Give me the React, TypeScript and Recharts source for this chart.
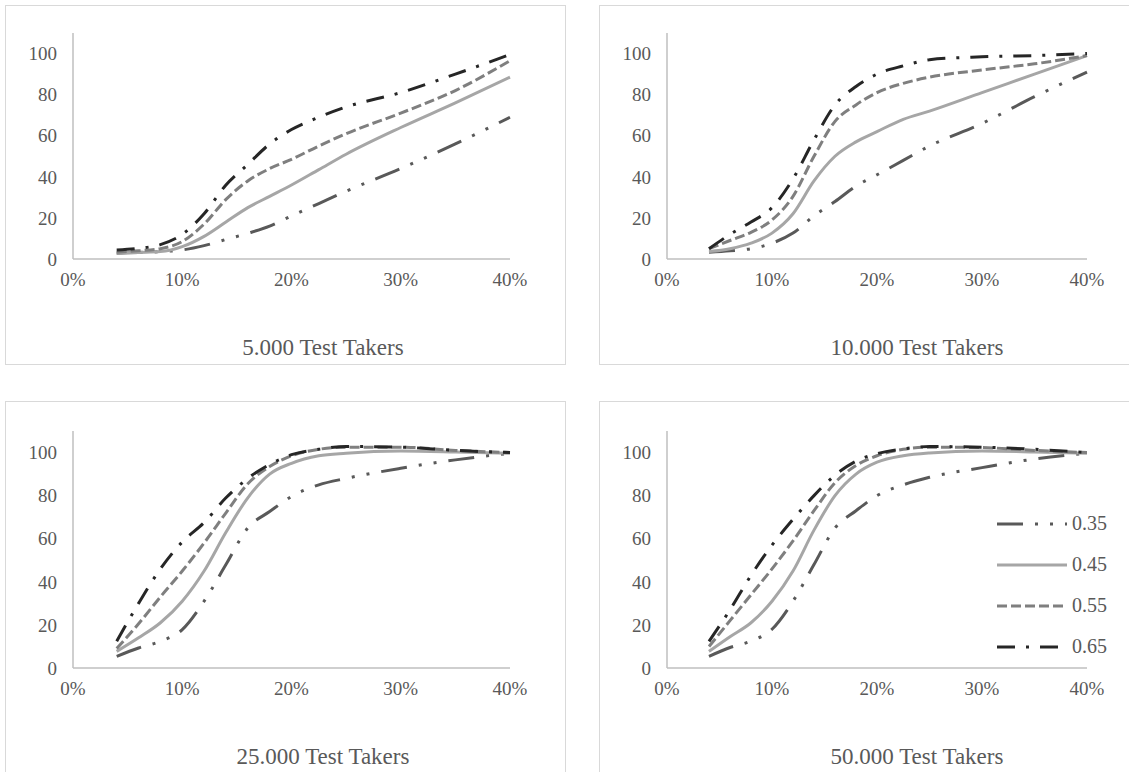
import { LineChart, Line, XAxis, YAxis } from "recharts"

// share of ... on the x axis
const X_VALUES = [0.04, 0.06, 0.08, 0.1, 0.12, 0.14, 0.16, 0.18, 0.2, 0.225, 0.25, 0.3, 0.35, 0.4]
const X_TICKS = [0, 0.1, 0.2, 0.3, 0.4]
const Y_TICKS = [0, 20, 40, 60, 80, 100]

const SERIES_NAMES = ["0.35", "0.45", "0.55", "0.65"]
const SERIES_COLORS = ["#595959", "#a6a6a6", "#7f7f7f", "#262626"]
const SERIES_DASHES = ["26 12 3 12 3 12", "", "10 4", "18 11 3 11"]

// 5.000 test takers
const T5000_035 = [2.8, 3.2, 3.6, 4.4, 6.5, 9.5, 12.5, 16, 21, 27, 33, 44, 56, 69]
const T5000_045 = [2.8, 3.2, 3.6, 6, 11, 18, 25, 30.5, 36, 43.5, 51, 64, 76, 88.5]
const T5000_055 = [3.3, 4, 5, 8.5, 17, 29, 38, 44, 48.5, 55, 61, 71, 82, 96.5]
const T5000_065 = [4.4, 5.2, 7, 12, 22, 36, 46, 56, 63, 69, 74, 81, 90, 99.5]

// 10.000 test takers
const T10000_035 = [3.3, 4, 5, 7.7, 12.6, 21, 28, 35.5, 41, 48, 55, 66, 79, 91]
const T10000_045 = [3.6, 5, 7.7, 12.6, 22, 38, 50, 57, 62, 68, 72, 81, 90, 99]
const T10000_055 = [5, 9, 13, 19, 30.5, 50, 67, 75, 81, 85.5, 88.5, 92, 95, 99]
const T10000_065 = [5, 12, 18, 25, 39, 58, 75, 84, 90, 94, 97, 98.4, 99, 100]

// 25.000 test takers
const T25000_035 = [5.4, 9.3, 12.4, 17.8, 31, 48, 65, 72.6, 79.6, 85, 88, 92.7, 96.6, 99.7]
const T25000_045 = [7.7, 14, 21, 31, 45, 63, 79, 90, 95, 98.5, 99.7, 100.7, 100.3, 99.7]
const T25000_055 = [9, 20.5, 33, 45, 58, 72, 85.5, 93.5, 98.5, 101.5, 102.5, 102.5, 101, 100]
const T25000_065 = [12.4, 30, 46, 58.5, 67.5, 79, 88, 94.5, 99, 101.5, 102.8, 102.5, 101, 100]

// 50.000 test takers
const T50000_035 = [5.4, 9.5, 12.5, 18, 31, 48, 65, 73, 80, 85, 88.5, 93, 97, 99.7]
const T50000_045 = [7.7, 14.5, 21, 31, 45, 64, 80, 90, 95.5, 98.5, 99.8, 100.7, 100.3, 99.7]
const T50000_055 = [10, 22, 34, 46, 59, 73, 86, 94, 98.5, 101.5, 102.5, 102.3, 101, 100]
const T50000_065 = [12.4, 27, 43, 57, 69, 80, 89.5, 96, 99.5, 101.7, 102.8, 102.5, 101.5, 100]

const FONT = "Liberation Serif, DejaVu Serif, Times New Roman, serif"
const TEXT = "#595959"

type PanelProps = {
  title: string
  series: number[][]
  left: number
  top: number
  boxW: number
  boxH: number
  chartW: number
  chartH: number
  margin: { top: number; right: number; bottom: number; left: number }
  titleX: number
  titleY: number
}

function Panel({ title, series, left, top, boxW, boxH, chartW, chartH, margin, titleX, titleY }: PanelProps) {
  const data = X_VALUES.map((x, i) => {
    const row: Record<string, number> = { x }
    series.forEach((s, k) => {
      row["s" + k] = s[i]
    })
    return row
  })

  return (
    <>
      <div
        style={{
          position: "absolute",
          left,
          top,
          width: boxW,
          height: boxH,
          border: "1.5px solid #d9d9d9",
          boxSizing: "border-box",
        }}
      />
      <div style={{ position: "absolute", left, top }}>
        <LineChart width={chartW} height={chartH} data={data} margin={margin} style={{ fontFamily: FONT }}>
          <XAxis
            dataKey="x"
            type="number"
            domain={[0, 0.4]}
            ticks={X_TICKS}
            interval={0}
            tickFormatter={(v: number) => `${Math.round(v * 100)}%`}
            axisLine={{ stroke: "#bfbfbf", strokeWidth: 1.5 }}
            tickLine={false}
            tickSize={0}
            tickMargin={14}
            height={40}
            tick={{ fill: TEXT, fontSize: 19, fontFamily: FONT }}
          />
          <YAxis
            type="number"
            domain={[0, 110]}
            ticks={Y_TICKS}
            interval={0}
            axisLine={{ stroke: "#bfbfbf", strokeWidth: 1.5 }}
            tickLine={false}
            tickSize={0}
            tickMargin={16}
            width={50}
            tick={{ fill: TEXT, fontSize: 19, fontFamily: FONT }}
          />
          {SERIES_NAMES.map((name, k) => (
            <Line
              key={name}
              name={name}
              dataKey={"s" + k}
              type="monotone"
              stroke={SERIES_COLORS[k]}
              strokeWidth={3}
              strokeDasharray={SERIES_DASHES[k] || undefined}
              dot={false}
              activeDot={false}
              isAnimationActive={false}
            />
          ))}
        </LineChart>
      </div>
      <div
        style={{
          position: "absolute",
          left: titleX,
          top: titleY,
          transform: "translate(-50%, -50%)",
          whiteSpace: "nowrap",
          color: TEXT,
          fontSize: 23,
          fontFamily: FONT,
        }}
      >
        {title}
      </div>
    </>
  )
}

function SeriesLegend({ left, top }: { left: number; top: number }) {
  return (
    <div style={{ position: "absolute", left, top }}>
      {SERIES_NAMES.map((name, k) => (
        <div key={name} style={{ display: "flex", alignItems: "center", height: 41 }}>
          <svg width={70} height={10}>
            <line
              x1={0}
              y1={5}
              x2={70}
              y2={5}
              stroke={SERIES_COLORS[k]}
              strokeWidth={3}
              strokeDasharray={SERIES_DASHES[k] || undefined}
            />
          </svg>
          <span style={{ marginLeft: 5, color: TEXT, fontSize: 20, fontFamily: FONT }}>{name}</span>
        </div>
      ))}
    </div>
  )
}

export default function App() {
  return (
    <div
      style={{
        position: "fixed",
        left: 0,
        top: 0,
        width: 1129,
        height: 772,
        overflow: "hidden",
        background: "#fff",
        fontFamily: FONT,
      }}
    >
      <Panel
        title="5.000 Test Takers"
        series={[T5000_035, T5000_045, T5000_055, T5000_065]}
        left={5}
        top={5}
        boxW={561}
        boxH={360}
        chartW={561}
        chartH={360}
        margin={{ top: 28, right: 56, bottom: 66, left: 18 }}
        titleX={323}
        titleY={348}
      />
      <Panel
        title="10.000 Test Takers"
        series={[T10000_035, T10000_045, T10000_055, T10000_065]}
        left={599}
        top={5}
        boxW={600}
        boxH={360}
        chartW={530}
        chartH={360}
        margin={{ top: 28, right: 42, bottom: 66, left: 18 }}
        titleX={917}
        titleY={348}
      />
      <Panel
        title="25.000 Test Takers"
        series={[T25000_035, T25000_045, T25000_055, T25000_065]}
        left={5}
        top={401}
        boxW={561}
        boxH={420}
        chartW={561}
        chartH={371}
        margin={{ top: 30, right: 56, bottom: 64, left: 18 }}
        titleX={323}
        titleY={757}
      />
      <Panel
        title="50.000 Test Takers"
        series={[T50000_035, T50000_045, T50000_055, T50000_065]}
        left={599}
        top={401}
        boxW={600}
        boxH={420}
        chartW={530}
        chartH={371}
        margin={{ top: 30, right: 42, bottom: 64, left: 18 }}
        titleX={917}
        titleY={757}
      />
      <SeriesLegend left={997} top={503} />
    </div>
  )
}
